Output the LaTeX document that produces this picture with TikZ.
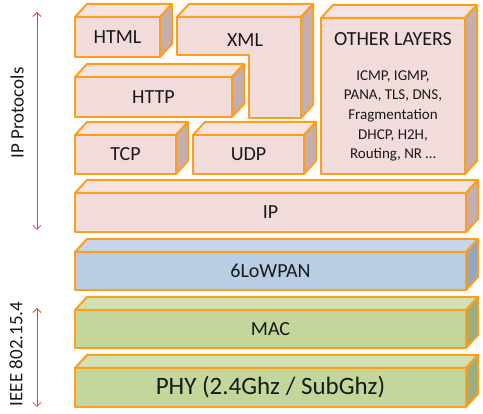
\documentclass[tikz,border=0pt]{standalone}
\usepackage{fontspec}
\setmainfont{Carlito}
\usetikzlibrary{arrows.meta}
\definecolor{edgeC}{HTML}{FF9E1B}
\definecolor{pinkF}{HTML}{F2DCDB}
\definecolor{pinkT}{HTML}{F5E4E3}
\definecolor{pinkS}{HTML}{C4AEAE}
\definecolor{blueF}{HTML}{B9CDE5}
\definecolor{blueT}{HTML}{C6D7EB}
\definecolor{blueS}{HTML}{95A7BD}
\definecolor{greenF}{HTML}{C3D69B}
\definecolor{greenT}{HTML}{D1E1B3}
\definecolor{greenS}{HTML}{9DAE7D}
\definecolor{arrowC}{HTML}{F03C3C}
\newcommand\boxfaces[2]{%
  \filldraw[facestyle, fill=#2T] (#1.north west) -- ++(12,-13) -- ([shift={(12,-13)}]#1.north east) -- (#1.north east) -- cycle;
  \filldraw[facestyle, fill=#2S] (#1.north east) -- ++(12,-13) -- ([shift={(12,-13)}]#1.south east) -- (#1.south east) -- cycle;
}
\begin{document}
\begin{tikzpicture}[x=1pt,y=-1pt,
  facestyle/.style={draw=edgeC, line width=2pt, line join=round},
  layer/.style={draw=edgeC, line width=2pt, line join=round, inner sep=0pt, outer sep=0pt, anchor=north west, font=\fontsize{20}{24}\selectfont, text=black!90},
  lbl/.style={font=\fontsize{20}{24}\selectfont, text=black!90, inner sep=0pt},
  small/.style={font=\fontsize{15}{19.6}\selectfont, text=black!90, inner sep=0pt, align=center},
  side/.style={font=\fontsize{19}{23}\selectfont, text=black!90, inner sep=0pt, rotate=90},
  span/.style={draw=arrowC, line width=0.8pt, {Straight Barb[length=4pt,width=8pt]}-{Straight Barb[length=4pt,width=8pt]}}
]
\useasboundingbox (0,0) rectangle (483,414);

% HTML
\node[layer, fill=pinkF, minimum width=85pt, minimum height=40pt] (html) at (75,17) {HTML};
\boxfaces{html}{pink}

% XML (L-shaped)
\filldraw[facestyle, fill=pinkT] (177,17) -- (189,4) -- (313,4) -- (301,17) -- cycle;
\filldraw[facestyle, fill=pinkS] (301,17) -- (313,4) -- (313,105) -- (301,118) -- cycle;
\filldraw[facestyle, fill=pinkF] (177,17) -- (301,17) -- (301,118) -- (249,118) -- (249,55) -- (177,55) -- cycle;
\node[lbl] (xml) at (245,40) {XML};

% OTHER LAYERS
\node[layer, fill=pinkF, minimum width=144pt, minimum height=156pt] (other) at (321,18) {};
\boxfaces{other}{pink}
\node[lbl] (othertitle) at (393,39) {OTHER LAYERS};
\node[small] (otherlist) at (393,116) {ICMP, IGMP,\\PANA, TLS, DNS,\\Fragmentation\\DHCP, H2H,\\Routing, NR \dots};

% HTTP
\node[layer, fill=pinkF, minimum width=157pt, minimum height=40pt] (http) at (75,77) {HTTP};
\boxfaces{http}{pink}

% TCP, UDP
\node[layer, fill=pinkF, minimum width=101pt, minimum height=39pt] (tcp) at (75,135) {TCP};
\boxfaces{tcp}{pink}
\node[layer, fill=pinkF, minimum width=111pt, minimum height=39pt] (udp) at (193,135) {UDP};
\boxfaces{udp}{pink}

% IP
\node[layer, fill=pinkF, minimum width=391pt, minimum height=39pt] (ip) at (75,193) {IP};
\boxfaces{ip}{pink}

% 6LoWPAN
\node[layer, fill=blueF, minimum width=391pt, minimum height=38pt] (lowpan) at (75,252) {6LoWPAN};
\boxfaces{lowpan}{blue}

% MAC
\node[layer, fill=greenF, minimum width=391pt, minimum height=38pt] (mac) at (75,310) {MAC};
\boxfaces{mac}{green}

% PHY
\node[layer, fill=greenF, minimum width=391pt, minimum height=39pt, font=\fontsize{25}{30}\selectfont] (phy) at (75,368) {PHY (2.4Ghz / SubGhz)};
\boxfaces{phy}{green}

% side arrows
\coordinate (ipTop) at (37,12);
\coordinate (ipBot) at (37,230);
\draw[span] (ipTop) -- (ipBot);
\node[side] (iplbl) at (17,113) {IP Protocols};

\coordinate (ieeeTop) at (37,308);
\coordinate (ieeeBot) at (37,407);
\draw[span] (ieeeTop) -- (ieeeBot);
\node[side] (ieeelbl) at (16,354) {IEEE 802.15.4};
\end{tikzpicture}
\end{document}
